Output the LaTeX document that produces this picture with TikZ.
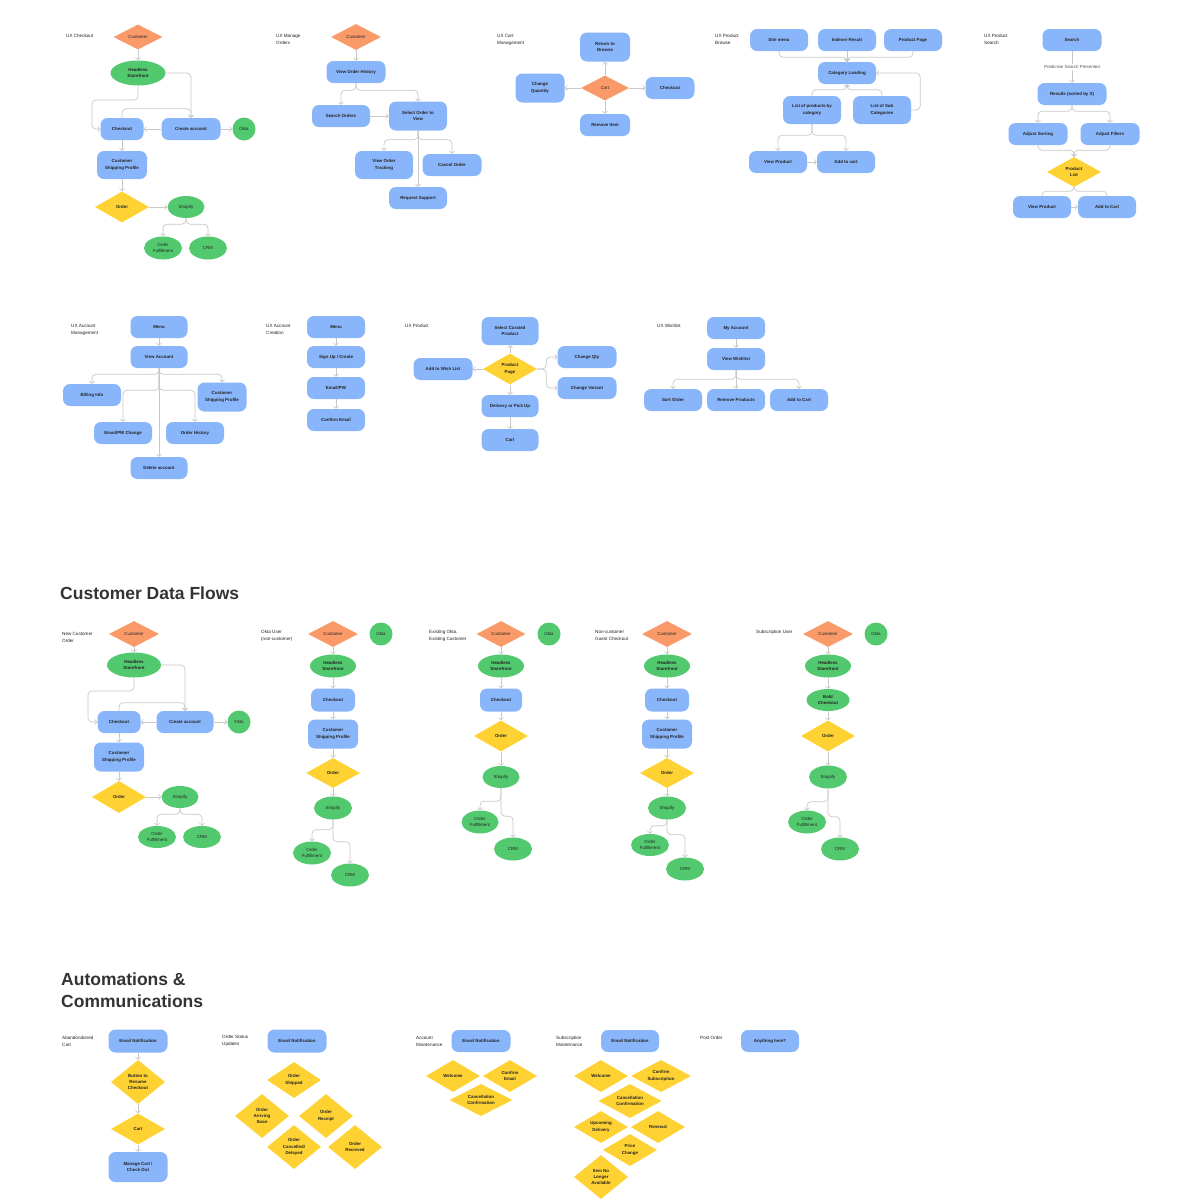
\documentclass[tikz,border=0pt]{standalone}
\usepackage{fontspec}
\setmainfont{Liberation Sans}
\usepackage{tikz}
\usetikzlibrary{arrows.meta, shapes.geometric}
\definecolor{NodeBlue}{HTML}{89B5FA}
\definecolor{NodeGreen}{HTML}{52C96E}
\definecolor{NodeOrange}{HTML}{FA9A69}
\definecolor{NodeYellow}{HTML}{FFD234}
\definecolor{LineGray}{HTML}{C8C8C8}
\definecolor{InkDark}{HTML}{222222}
\definecolor{HeadInk}{HTML}{333333}
\definecolor{NoteGray}{HTML}{555555}
\newcommand{\nodefont}{\fontsize{4.4}{6.4}\selectfont}
\newcommand{\tagfont}{\fontsize{4.6}{7}\selectfont}
\newcommand{\headfont}{\fontsize{17.5}{22}\selectfont\bfseries}

\begin{document}
\begin{tikzpicture}[x=1pt, y=-1pt, >={Straight Barb[length=2.2pt,width=5pt]},
    box/.style={rectangle, rounded corners=7pt, fill=NodeBlue, minimum width=58, minimum height=22, inner sep=1pt, align=center, font=\nodefont\bfseries, text=InkDark},
    oval/.style={ellipse, fill=NodeGreen, minimum width=38, minimum height=23, inner sep=0pt, align=center, font=\nodefont, text=InkDark},
    headoval/.style={oval, minimum width=46, font=\nodefont\bfseries},
    ring/.style={circle, fill=NodeGreen, minimum size=23, inner sep=0pt, font=\nodefont, text=InkDark},
    dia/.style={diamond, aspect=2, fill=NodeYellow, minimum width=54, minimum height=31, inner sep=0pt, align=center, font=\nodefont\bfseries, text=InkDark},
    custdia/.style={dia, fill=NodeOrange, minimum width=50, minimum height=26, font=\nodefont},
    flowtag/.style={anchor=west, align=left, inner sep=0pt, font=\tagfont, text=InkDark},
    heading/.style={anchor=west, align=left, inner sep=0pt, font=\headfont, text=HeadInk},
    note/.style={fill=white, inner sep=1.5pt, font=\nodefont, text=NoteGray},
    flow/.style={->, draw=LineGray, line width=0.7pt, rounded corners=4pt}]
  \useasboundingbox (0,0) rectangle (1200,1203);
  \fill[white] (0,0) rectangle (1200,1203);

  % UX Checkout
  \node[flowtag] (ckTag) at (66,36) {UX Checkout};
  \node[custdia, minimum width=49, minimum height=25] (ckCust) at (138,37) {Customer};
  \node[headoval, minimum width=55, minimum height=25] (ckHead) at (138,73) {Headless\\Storefront};
  \node[box, minimum width=43] (ckCheck) at (122,129) {Checkout};
  \node[box, minimum width=59] (ckCreate) at (191,129) {Create account};
  \node[ring] (ckOkta) at (244,129) {Okta};
  \node[box, minimum width=50, minimum height=28] (ckShip) at (122,165) {Customer\\Shipping Profile};
  \node[dia] (ckOrder) at (122,207) {Order};
  \node[oval, minimum width=37, minimum height=22] (ckShop) at (186,207) {Shopify};
  \node[oval] (ckFul) at (163,248) {Order\\Fulfillment};
  \node[oval] (ckCrm) at (208,248) {CRM};
  \draw[flow] (ckCust) -- (ckHead);
  \draw[flow] (ckHead.south) |- (92,100) |- (ckCheck.west);
  \draw[flow] (ckHead.east) -| (ckCreate.north);
  \draw[flow] (ckCheck.north) -- ++(0,-9) -| (ckCreate.north);
  \draw[flow] (ckCreate) -- (ckCheck);
  \draw[flow] (ckCreate) -- (ckOkta);
  \draw[flow] (ckCheck) -- (ckShip);
  \draw[flow] (ckShip) -- (ckOrder);
  \draw[flow] (ckOrder) -- (ckShop);
  \draw[flow] (ckShop.south) -- ++(0,6) -| (ckFul.north);
  \draw[flow] (ckShop.south) -- ++(0,6) -| (ckCrm.north);

  % UX Manage Orders
  \node[flowtag] (moTag) at (276,39.5) {UX Manage\\Orders};
  \node[custdia] (moCust) at (356,37) {Customer};
  \node[box, minimum width=59] (moHist) at (356,72) {View Order History};
  \node[box] (moSearch) at (341,116) {Search Orders};
  \node[box, minimum height=29] (moSelect) at (418,116) {Select Order to\\View};
  \node[box, minimum height=28] (moTrack) at (384,165) {View Order\\Tracking};
  \node[box, minimum width=59] (moCancel) at (452,165) {Cancel Order};
  \node[box] (moSupport) at (418,198) {Request Support};
  \draw[flow] (moCust) -- (moHist);
  \draw[flow] (moHist.south) -- ++(0,7) -| (moSearch.north);
  \draw[flow] (moHist.south) -- ++(0,7) -| (moSelect.north);
  \draw[flow] (moSearch) -- (moSelect);
  \draw[flow] (moSelect.south) -- ++(0,9) -| (moTrack.north);
  \draw[flow] (moSelect.south) -- ++(0,9) -| (moCancel.north);
  \draw[flow] (moSelect) -- (moSupport);

  % UX Cart Management
  \node[flowtag] (cmTag) at (497,39.5) {UX Cart\\Management};
  \node[box, minimum width=50, minimum height=29] (cmReturn) at (605,47) {Return to\\Browse};
  \node[custdia, minimum width=48, minimum height=25] (cmCart) at (605,88) {Cart};
  \node[box, minimum width=49, minimum height=29] (cmQty) at (540,88) {Change\\Quantity};
  \node[box, minimum width=49] (cmCheck) at (670,88) {Checkout};
  \node[box, minimum width=50] (cmRemove) at (605,125) {Remove Item};
  \draw[flow] (cmCart) -- (cmReturn);
  \draw[flow] (cmCart) -- (cmQty);
  \draw[flow] (cmCart) -- (cmCheck);
  \draw[flow] (cmCart) -- (cmRemove);

  % UX Product Browse
  \node[flowtag] (pbTag) at (715,39.5) {UX Product\\Browse};
  \node[box] (pbMenu) at (779,40) {Site menu};
  \node[box] (pbIndex) at (847,40) {Indexer Result};
  \node[box] (pbPage) at (913,40) {Product Page};
  \node[box] (pbLanding) at (847,73) {Category Landing};
  \node[box, minimum height=28] (pbList) at (812,110) {List of products by\\category};
  \node[box, minimum height=28] (pbSub) at (882,110) {List of Sub\\Categories};
  \node[box] (pbView) at (778,162) {View Product};
  \node[box] (pbAdd) at (846,162) {Add to cart};
  \draw[flow] (pbMenu.south) -- ++(0,6) -| (pbLanding.north);
  \draw[flow] (pbPage.south) -- ++(0,6) -| (pbLanding.north);
  \draw[flow] (pbIndex) -- (pbLanding);
  \draw[flow] (pbList.north) -- ++(0,-6) -| (pbLanding.south);
  \draw[flow] (pbSub.north) -- ++(0,-6) -| (pbLanding.south);
  \draw[flow] (pbSub.east) -- ++(9,0) |- (pbLanding.east);
  \draw[flow] (pbList.south) -- ++(0,11) -| (pbView.north);
  \draw[flow] (pbList.south) -- ++(0,11) -| (pbAdd.north);
  \draw[flow] (pbView) -- (pbAdd);

  % UX Product Search
  \node[flowtag] (psTag) at (984,39.5) {UX Product\\Search};
  \node[box, minimum width=59] (psSearch) at (1072,40) {Search};
  \node[box, minimum width=69] (psResults) at (1072,94) {Results (sorted by X)};
  \node[box, minimum width=59] (psSort) at (1038,134) {Adjust Sorting};
  \node[box, minimum width=59] (psFilter) at (1110,134) {Adjust Filters};
  \node[dia, minimum height=30] (psList) at (1074,172) {Product\\List};
  \node[box] (psView) at (1042,207) {View Product};
  \node[box] (psAdd) at (1107,207) {Add to Cart};
  \draw[flow] (psSearch) -- node[note] {Predictive Search Presented} (psResults);
  \draw[flow] (psResults.south) -- ++(0,6) -| (psSort.north);
  \draw[flow] (psResults.south) -- ++(0,6) -| (psFilter.north);
  \draw[flow] (psSort.south) -- ++(0,5) -| (psList.north);
  \draw[flow] (psFilter.south) -- ++(0,5) -| (psList.north);
  \draw[flow, -] (psList.south) -- ++(0,4) -| (psView.north);
  \draw[flow, -] (psList.south) -- ++(0,4) -| (psAdd.north);
  \draw[flow] (psView) -- (psAdd);

  % UX Account Management
  \node[flowtag] (amTag) at (71,329.5) {UX Account\\Management};
  \node[box, minimum width=57] (amMenu) at (159,327) {Menu};
  \node[box, minimum width=57] (amView) at (159,357) {View Account};
  \node[box] (amBilling) at (92,395) {Billing Info};
  \node[box, minimum width=49, minimum height=29] (amShip) at (222,397) {Customer\\Shipping Profile};
  \node[box] (amEmail) at (123,433) {Email/PW Change};
  \node[box] (amHistory) at (195,433) {Order History};
  \node[box, minimum width=57] (amDelete) at (159,468) {Delete account};
  \draw[flow] (amMenu) -- (amView);
  \draw[flow] (amView.south) -- ++(0,6) -| (amBilling.north);
  \draw[flow] (amView.south) -- ++(0,6) -| (amShip.north);
  \draw[flow] (amView.south) -- ++(0,22) -| (amEmail.north);
  \draw[flow] (amView.south) -- ++(0,22) -| (amHistory.north);
  \draw[flow] (amView) -- (amDelete);

  % UX Account Creation
  \node[flowtag] (acTag) at (266,329.5) {UX Account\\Creation};
  \node[box] (acMenu) at (336,327) {Menu};
  \node[box] (acSign) at (336,357) {Sign Up / Create};
  \node[box] (acEmail) at (336,388) {Email/PW};
  \node[box] (acConfirm) at (336,420) {Confirm Email};
  \draw[flow] (acMenu) -- (acSign);
  \draw[flow] (acSign) -- (acEmail);
  \draw[flow] (acEmail) -- (acConfirm);

  % UX Product
  \node[flowtag] (upTag) at (405,326) {UX Product};
  \node[box, minimum width=57, minimum height=28] (upSelect) at (510,331) {Select Curated\\Product};
  \node[dia] (upPage) at (510,369) {Product\\Page};
  \node[box, minimum width=59] (upWish) at (443,369) {Add to Wish List};
  \node[box, minimum width=59] (upQty) at (587,357) {Change Qty};
  \node[box, minimum width=59] (upVariant) at (587,388) {Change Variant};
  \node[box, minimum width=57] (upDeliver) at (510,406) {Delivery or Pick Up};
  \node[box, minimum width=57] (upCart) at (510,440) {Cart};
  \draw[flow] (upPage) -- (upSelect);
  \draw[flow] (upPage) -- (upWish);
  \draw[flow] (upPage) -- (upDeliver);
  \draw[flow] (upDeliver) -- (upCart);
  \draw[flow] (upPage.east) -- ++(9,0) |- (upQty.west);
  \draw[flow] (upPage.east) -- ++(9,0) |- (upVariant.west);

  % UX Wishlist
  \node[flowtag] (wlTag) at (657,326) {UX Wishlist};
  \node[box] (wlAccount) at (736,328) {My Account};
  \node[box] (wlView) at (736,359) {View Wishlist};
  \node[box] (wlSort) at (673,400) {Sort Order};
  \node[box] (wlRemove) at (736,400) {Remove Products};
  \node[box] (wlAdd) at (799,400) {Add to Cart};
  \draw[flow] (wlAccount) -- (wlView);
  \draw[flow] (wlView.south) -- ++(0,9) -| (wlSort.north);
  \draw[flow] (wlView.south) -- ++(0,9) -| (wlAdd.north);
  \draw[flow] (wlView) -- (wlRemove);

  % Customer Data Flows
  \node[heading] (cdfHead) at (60,593) {Customer Data Flows};

  % New Customer Order
  \node[flowtag] (ncTag) at (62,637) {New Customer\\Order};
  \node[custdia] (ncCust) at (134,634) {Customer};
  \node[headoval, minimum width=54, minimum height=25] (ncHead) at (134,665) {Headless\\Storefront};
  \node[box, minimum width=43] (ncCheck) at (119,722) {Checkout};
  \node[box, minimum width=57] (ncCreate) at (185,722) {Create account};
  \node[ring] (ncOkta) at (239,722) {Okta};
  \node[box, minimum width=50, minimum height=29] (ncShip) at (119,757) {Customer\\Shipping Profile};
  \node[dia, minimum height=32] (ncOrder) at (119,797) {Order};
  \node[oval, minimum width=37, minimum height=22] (ncShop) at (180,797) {Shopify};
  \node[oval, minimum height=22] (ncFul) at (157,837) {Order\\Fulfillment};
  \node[oval, minimum height=22] (ncCrm) at (202,837) {CRM};
  \draw[flow] (ncCust) -- (ncHead);
  \draw[flow] (ncHead.south) |- (88,691) |- (ncCheck.west);
  \draw[flow] (ncHead.east) -| (ncCreate.north);
  \draw[flow] (ncCheck.north) -- ++(0,-8) -| (ncCreate.north);
  \draw[flow] (ncCreate) -- (ncCheck);
  \draw[flow] (ncCreate) -- (ncOkta);
  \draw[flow] (ncCheck) -- (ncShip);
  \draw[flow] (ncShip) -- (ncOrder);
  \draw[flow] (ncOrder) -- (ncShop);
  \draw[flow] (ncShop.south) -- ++(0,6) -| (ncFul.north);
  \draw[flow] (ncShop.south) -- ++(0,6) -| (ncCrm.north);

  % Okta User (non-customer)
  \node[flowtag] (ouTag) at (261,635.5) {Okta User\\(non-customer)};
  \node[custdia] (ouCust) at (333,634) {Customer};
  \node[ring] (ouOkta) at (381,634) {Okta};
  \node[headoval] (ouHead) at (333,666) {Headless\\Storefront};
  \node[box, minimum width=44, minimum height=23] (ouCheck) at (333,700) {Checkout};
  \node[box, minimum width=50, minimum height=29] (ouShip) at (333,734) {Customer\\Shipping Profile};
  \node[dia, minimum height=30] (ouOrder) at (333,773) {Order};
  \node[oval] (ouShop) at (333,808) {Shopify};
  \node[oval] (ouFul) at (312,853) {Order\\Fulfillment};
  \node[oval] (ouCrm) at (350,875) {CRM};
  \draw[flow] (ouCust) -- (ouHead);
  \draw[flow] (ouHead) -- (ouCheck);
  \draw[flow] (ouCheck) -- (ouShip);
  \draw[flow] (ouShip) -- (ouOrder);
  \draw[flow] (ouOrder) -- (ouShop);
  \draw[flow] (ouShop.south) -- ++(0,10) -| (ouFul.north);
  \draw[flow] (ouShop.south) -- ++(0,22) -| (ouCrm.north);

  % Existing Okta, Existing Customer
  \node[flowtag] (exTag) at (429,635.5) {Existing Okta,\\Existing Customer};
  \node[custdia, minimum width=49] (exCust) at (501,634) {Customer};
  \node[ring] (exOkta) at (549,634) {Okta};
  \node[headoval] (exHead) at (501,666) {Headless\\Storefront};
  \node[box, minimum width=42, minimum height=23] (exCheck) at (501,700) {Checkout};
  \node[dia] (exOrder) at (501,736) {Order};
  \node[oval, minimum width=37, minimum height=22] (exShop) at (501,777) {Shopify};
  \node[oval, minimum width=37] (exFul) at (480,822) {Order\\Fulfillment};
  \node[oval] (exCrm) at (513,849) {CRM};
  \draw[flow] (exCust) -- (exHead);
  \draw[flow] (exHead) -- (exCheck);
  \draw[flow] (exCheck) -- (exOrder);
  \draw[flow] (exOrder) -- (exShop);
  \draw[flow] (exShop.south) -- ++(0,13) -| (exFul.north);
  \draw[flow] (exShop.south) -- ++(0,28) -| (exCrm.north);

  % Non-customer Guest Checkout
  \node[flowtag] (ngTag) at (595,635.5) {Non-customer\\Guest Checkout};
  \node[custdia] (ngCust) at (667,634) {Customer};
  \node[headoval] (ngHead) at (667,666) {Headless\\Storefront};
  \node[box, minimum width=44, minimum height=23] (ngCheck) at (667,700) {Checkout};
  \node[box, minimum width=50, minimum height=29] (ngShip) at (667,734) {Customer\\Shipping Profile};
  \node[dia, minimum height=30] (ngOrder) at (667,773) {Order};
  \node[oval] (ngShop) at (667,808) {Shopify};
  \node[oval, minimum height=22] (ngFul) at (650,845) {Order\\Fulfillment};
  \node[oval] (ngCrm) at (685,869) {CRM};
  \draw[flow] (ngCust) -- (ngHead);
  \draw[flow] (ngHead) -- (ngCheck);
  \draw[flow] (ngCheck) -- (ngShip);
  \draw[flow] (ngShip) -- (ngOrder);
  \draw[flow] (ngOrder) -- (ngShop);
  \draw[flow] (ngShop.south) -- ++(0,6) -| (ngFul.north);
  \draw[flow] (ngShop.south) -- ++(0,15) -| (ngCrm.north);

  % Subscription User
  \node[flowtag] (suTag) at (756,632) {Subscription User};
  \node[custdia] (suCust) at (828,634) {Customer};
  \node[ring] (suOkta) at (876,634) {Okta};
  \node[headoval] (suHead) at (828,666) {Headless\\Storefront};
  \node[headoval, minimum width=43, minimum height=22] (suBold) at (828,700) {Bold\\Checkout};
  \node[dia] (suOrder) at (828,736) {Order};
  \node[oval] (suShop) at (828,777) {Shopify};
  \node[oval] (suFul) at (807,822) {Order\\Fulfillment};
  \node[oval] (suCrm) at (840,849) {CRM};
  \draw[flow] (suCust) -- (suHead);
  \draw[flow] (suHead) -- (suBold);
  \draw[flow] (suBold) -- (suOrder);
  \draw[flow] (suOrder) -- (suShop);
  \draw[flow] (suShop.south) -- ++(0,13) -| (suFul.north);
  \draw[flow] (suShop.south) -- ++(0,28) -| (suCrm.north);

  % Automations & Communications
  \node[heading] (acmHead) at (61,990) {Automations \&\\Communications};

  % Abandondoned Cart
  \node[flowtag] (abTag) at (62,1041) {Abandondoned\\Cart};
  \node[box, minimum width=59, minimum height=23] (abEmail) at (138,1041) {Email Notification};
  \node[dia, aspect=1.2, minimum height=44] (abButton) at (138,1082) {Button to\\Resume\\Checkout};
  \node[dia] (abCart) at (138,1129) {Cart};
  \node[box, minimum width=59, minimum height=30] (abManage) at (138,1167) {Manage Cart /\\Check Out};
  \draw[flow] (abEmail) -- (abButton);
  \draw[flow] (abButton) -- (abCart);
  \draw[flow] (abCart) -- (abManage);

  % Order Status Updates
  \node[flowtag] (osTag) at (222,1041) {Order Status\\Updates};
  \node[box, minimum width=59, minimum height=23] (osEmail) at (297,1041) {Email Notification};
  \node[dia, minimum height=36] (osShipped) at (294,1080) {Order\\Shipped};
  \node[dia, aspect=1.2, minimum height=44] (osArriving) at (262,1116) {Order\\Arriving\\Soon};
  \node[dia, minimum height=44] (osReceipt) at (326,1116) {Order\\Receipt};
  \node[dia, aspect=1.2, minimum height=44] (osCancel) at (294,1147) {Order\\Cancelled/\\Delayed};
  \node[dia, minimum height=44] (osRecieved) at (355,1147) {Order\\Recieved};

  % Account Maintenance
  \node[flowtag] (maTag) at (416,1041) {Account\\Maintenance};
  \node[box, minimum width=59] (maEmail) at (481,1041) {Email Notification};
  \node[dia, minimum height=32] (maWelcome) at (453,1076) {Welcome};
  \node[dia, minimum height=32] (maConfirm) at (510,1076) {Confirm\\Email};
  \node[dia, minimum width=63, minimum height=32] (maCancel) at (481,1100) {Cancellation\\Confirmation};

  % Subscription Maintenance
  \node[flowtag] (smTag) at (556,1041) {Subscription\\Maintenance};
  \node[box] (smEmail) at (630,1041) {Email Notification};
  \node[dia, minimum height=32] (smWelcome) at (601,1076) {Welcome};
  \node[dia, minimum width=60, minimum height=32] (smConfirm) at (661,1076) {Confirm\\Subscription};
  \node[dia, minimum width=63, minimum height=34] (smCancel) at (630,1101) {Cancellation\\Confirmation};
  \node[dia, minimum height=32] (smUpcoming) at (601,1127) {Upcoming\\Delivery};
  \node[dia, minimum height=32] (smRenewal) at (658,1127) {Renewal};
  \node[dia, minimum height=32] (smPrice) at (630,1150) {Price\\Change};
  \node[dia, aspect=1.2, minimum height=44] (smItem) at (601,1177) {Item No\\Longer\\Available};

  % Post Order
  \node[flowtag] (poTag) at (700,1038) {Post Order};
  \node[box] (poAny) at (770,1041) {Anything here?};
\end{tikzpicture}
\end{document}
